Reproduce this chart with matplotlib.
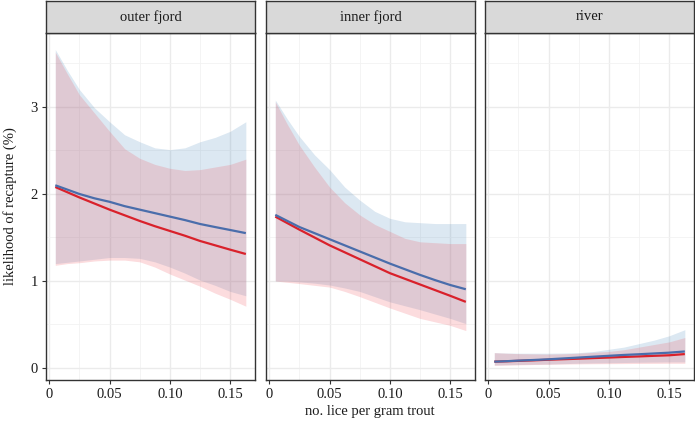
import matplotlib
matplotlib.use("Agg")
import matplotlib.pyplot as plt
import numpy as np

plt.rcParams['font.family'] = ['Liberation Serif', 'DejaVu Serif']

# lice per gram trout (shared x positions of the fitted curves)
lice = [0.005, 0.015, 0.025, 0.0375, 0.05, 0.0625, 0.075, 0.0875,
        0.10, 0.1125, 0.125, 0.1375, 0.15, 0.163]

panels = ['outer fjord', 'inner fjord', 'river']

# outer fjord
outer_blue = [2.10, 2.05, 2.00, 1.95, 1.91, 1.86, 1.82, 1.78, 1.74, 1.70, 1.655, 1.62, 1.586, 1.55]
outer_blue_hi = [3.66, 3.42, 3.20, 2.99, 2.83, 2.68, 2.60, 2.53, 2.51, 2.53, 2.60, 2.65, 2.72, 2.83]
outer_blue_lo = [1.20, 1.215, 1.23, 1.25, 1.27, 1.27, 1.26, 1.22, 1.16, 1.09, 1.01, 0.95, 0.88, 0.83]
outer_red = [2.08, 2.02, 1.96, 1.89, 1.82, 1.755, 1.69, 1.63, 1.575, 1.52, 1.46, 1.41, 1.36, 1.31]
outer_red_hi = [3.63, 3.38, 3.14, 2.93, 2.72, 2.52, 2.41, 2.34, 2.295, 2.27, 2.28, 2.31, 2.34, 2.40]
outer_red_lo = [1.18, 1.20, 1.21, 1.23, 1.24, 1.24, 1.22, 1.16, 1.08, 1.01, 0.94, 0.86, 0.79, 0.71]

# inner fjord
inner_blue = [1.76, 1.69, 1.62, 1.55, 1.48, 1.41, 1.34, 1.27, 1.20, 1.135, 1.07, 1.01, 0.954, 0.905]
inner_blue_hi = [3.08, 2.86, 2.66, 2.45, 2.28, 2.08, 1.93, 1.80, 1.72, 1.68, 1.67, 1.66, 1.66, 1.66]
inner_blue_lo = [1.00, 1.00, 0.99, 0.975, 0.954, 0.92, 0.88, 0.82, 0.76, 0.715, 0.67, 0.62, 0.57, 0.51]
inner_red = [1.74, 1.665, 1.59, 1.50, 1.41, 1.33, 1.25, 1.17, 1.09, 1.025, 0.96, 0.895, 0.83, 0.76]
inner_red_hi = [3.06, 2.80, 2.56, 2.31, 2.08, 1.90, 1.76, 1.65, 1.57, 1.49, 1.45, 1.44, 1.43, 1.43]
inner_red_lo = [1.00, 0.985, 0.97, 0.95, 0.93, 0.88, 0.82, 0.755, 0.69, 0.63, 0.57, 0.53, 0.49, 0.43]

# river
river_blue = [0.073, 0.078, 0.085, 0.092, 0.10, 0.11, 0.12, 0.13, 0.14, 0.15, 0.158, 0.167, 0.176, 0.19]
river_blue_hi = [0.176, 0.172, 0.17, 0.17, 0.17, 0.172, 0.176, 0.19, 0.215, 0.24, 0.28, 0.32, 0.37, 0.44]
river_blue_lo = [0.034, 0.037, 0.04, 0.043, 0.045, 0.05, 0.055, 0.058, 0.06, 0.063, 0.066, 0.068, 0.07, 0.07]
river_red = [0.073, 0.077, 0.082, 0.088, 0.095, 0.101, 0.107, 0.114, 0.12, 0.127, 0.133, 0.14, 0.146, 0.16]
river_red_hi = [0.176, 0.17, 0.165, 0.162, 0.16, 0.163, 0.17, 0.18, 0.19, 0.21, 0.24, 0.27, 0.30, 0.35]
river_red_lo = [0.03, 0.033, 0.036, 0.04, 0.042, 0.045, 0.047, 0.049, 0.05, 0.051, 0.052, 0.053, 0.054, 0.054]

series = {
    'outer fjord': (outer_blue, outer_blue_lo, outer_blue_hi, outer_red, outer_red_lo, outer_red_hi),
    'inner fjord': (inner_blue, inner_blue_lo, inner_blue_hi, inner_red, inner_red_lo, inner_red_hi),
    'river': (river_blue, river_blue_lo, river_blue_hi, river_red, river_red_lo, river_red_hi),
}

x_ticks = [0, 0.05, 0.10, 0.15]
x_tick_labels = ['0', '0.05', '0.10', '0.15']
y_ticks = [0, 1, 2, 3]

W, H = 695, 422
fig = plt.figure(figsize=(W / 100, H / 100), dpi=100)

blue_line = '#4A6DAB'
red_line = '#D9212B'
blue_fill = '#508CBE'
red_fill = '#F0505A'
edge = '#333333'

lefts = [46, 266, 485]
pw = 209
top, bottom, strip_top = 33, 380, 1

for i, name in enumerate(panels):
    b, b_lo, b_hi, r, r_lo, r_hi = series[name]
    ax = fig.add_axes([lefts[i] / W, 1 - bottom / H, pw / W, (bottom - top) / H])

    ax.fill_between(lice, b_lo, b_hi, color=blue_fill, alpha=0.2, lw=0)
    ax.fill_between(lice, r_lo, r_hi, color=red_fill, alpha=0.2, lw=0)
    ax.plot(lice, r, color=red_line, lw=1.6, solid_capstyle='butt')
    ax.plot(lice, b, color=blue_line, lw=1.6, solid_capstyle='butt')

    ax.set_xlim(-0.0027, 0.1706)
    ax.set_ylim(-0.138, 3.85)
    ax.set_xticks(x_ticks)
    ax.set_xticklabels(x_tick_labels)
    ax.set_xticks([0.025, 0.075, 0.125], minor=True)
    ax.set_yticks(y_ticks)
    ax.set_yticks([0.5, 1.5, 2.5, 3.5], minor=True)
    ax.grid(which='major', color='#EBEBEB', lw=1.0)
    ax.grid(which='minor', color='#F2F2F2', lw=0.6)
    ax.set_axisbelow(True)
    ax.tick_params(which='major', length=3, width=0.8, color=edge,
                   labelsize=10.5, labelcolor='#1A1A1A', pad=3)
    ax.tick_params(which='minor', length=0)
    if i > 0:
        ax.tick_params(axis='y', labelleft=False, length=0)
    for s in ax.spines.values():
        s.set_color(edge)
        s.set_linewidth(1.0)

    strip = fig.add_axes([lefts[i] / W, 1 - top / H, pw / W, (top - strip_top) / H])
    strip.set_facecolor('#D9D9D9')
    strip.set_xticks([])
    strip.set_yticks([])
    for s in strip.spines.values():
        s.set_color(edge)
        s.set_linewidth(1.0)
    strip.text(0.5, 0.5, name, ha='center', va='center', fontsize=10.5,
               color='#1A1A1A', transform=strip.transAxes)

fig.text(10 / W, 1 - 206.5 / H, 'likelihood of recapture (%)', rotation=90,
         ha='center', va='center', fontsize=10.5, color='#1A1A1A')
fig.text(370 / W, 1 - 412 / H, 'no. lice per gram trout',
         ha='center', va='center', fontsize=10.5, color='#1A1A1A')

fig.savefig('out.png', dpi=100)
